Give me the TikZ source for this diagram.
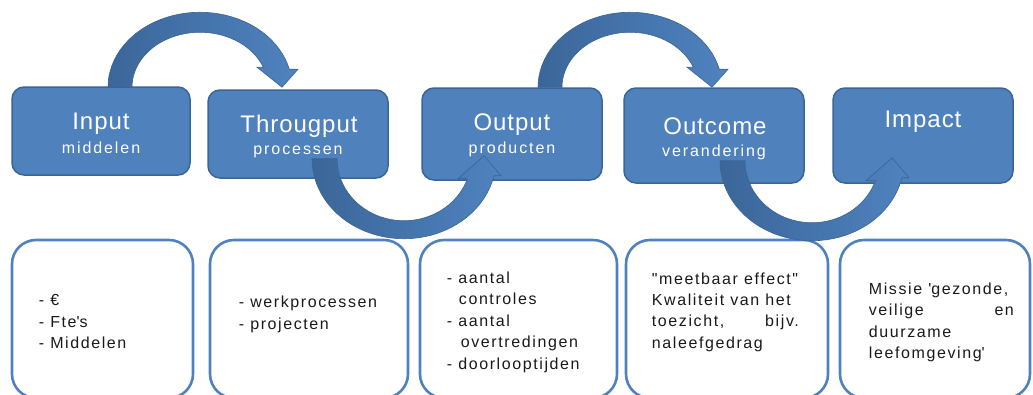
\documentclass[tikz,border=0pt]{standalone}
\usepackage{fontspec}
\setmainfont{Liberation Sans}
\newfontfamily\headfont[LetterSpace=4]{Liberation Sans}
\newfontfamily\subfont[LetterSpace=12]{Liberation Sans}
\newfontfamily\listfont[LetterSpace=10]{Liberation Sans}
\usetikzlibrary{calc,positioning}

\definecolor{boxblue}{HTML}{4F81BD}
\definecolor{boxline}{HTML}{3A6596}
\definecolor{arrowdark}{HTML}{3B6699}
\definecolor{arrowlight}{HTML}{4F82BF}
\definecolor{arrowline}{HTML}{3A6494}
\definecolor{listline}{HTML}{4F81BD}

\tikzset{
  topbox/.style={draw=boxline, fill=boxblue, line width=1.5pt, rounded corners=12pt,
    minimum width=180pt, minimum height=92pt},
  listbox/.style={draw=listline, line width=2.6pt, rounded corners=24pt, minimum height=158pt},
  boxtitle/.style={text=white, font=\headfont\fontsize{24}{28}\selectfont, anchor=base, inner sep=0pt},
  boxsub/.style={text=white, font=\subfont\fontsize{16}{19}\selectfont, anchor=base, inner sep=0pt},
  listtext/.style={font=\listfont\fontsize{16}{21.5}\selectfont, align=left, inner sep=0pt, text=black!90},
  bendarrow/.style={draw=arrowline, line width=0.6pt, left color=arrowdark, right color=arrowlight},
}

% curved arrow over the top of two boxes
\newcommand\overarrow{%
  \path[bendarrow] plot[domain=180:346.1, samples=40] ({92*cos(\x)}, {75*sin(\x)})
    -- (98,-18) -- (82,0) -- (57,-20)
    -- plot[domain=338.7:180, samples=40] ({68*cos(\x)}, {55*sin(\x)}) -- cycle;}
% curved arrow under two boxes
\newcommand\underarrow{%
  \path[bendarrow] plot[domain=180:12.3, samples=40] ({92*cos(\x)}, {80*sin(\x)})
    -- (97,17) -- (80,-3) -- (54,20)
    -- plot[domain=18.8:180, samples=40] ({67*cos(\x)}, {62*sin(\x)}) -- cycle;}

\begin{document}
\begin{tikzpicture}[x=1pt, y=-1pt]
  \useasboundingbox (0,0) rectangle (1033,394);
  \clip (0,0) rectangle (1033,394);

  % top row
  \node[topbox, minimum width=178pt, minimum height=88pt] (inp) at (101,131) {};
  \node[topbox, minimum height=88pt] (thr) at (298,134) {};
  \node[topbox] (outp) at (512,134) {};
  \node[topbox, minimum height=95pt] (outc) at (714,135.5) {};
  \node[topbox, minimum height=95pt] (imp) at (923,135.5) {};

  \node[boxtitle] (inp-t) at ($(inp.north)+(0,43)$) {Input};
  \node[boxsub] (inp-s) at ($(inp.north)+(0,67)$) {middelen};
  \node[boxtitle] (thr-t) at ($(thr.north)+(1,43)$) {Througput};
  \node[boxsub] (thr-s) at ($(thr.north)+(0,65)$) {processen};
  \node[boxtitle] (outp-t) at ($(outp.north)+(0,43)$) {Output};
  \node[boxsub] (outp-s) at ($(outp.north)+(0,66)$) {producten};
  \node[boxtitle] (outc-t) at ($(outc.north)+(1,47)$) {Outcome};
  \node[boxsub] (outc-s) at ($(outc.north)+(0,69)$) {verandering};
  \node[boxtitle] (imp-t) at ($(imp.north)+(0,40)$) {Impact};

  \begin{scope}[shift={($(inp.north)+(99,1)$)}] \overarrow \end{scope}
  \begin{scope}[shift={($(outp.north)+(118,0)$)}] \overarrow \end{scope}

  % bottom row
  \node[listbox, minimum width=181pt] (inp-l) at (102.5,319) {};
  \node[listbox, minimum width=198pt] (thr-l) at (309,319) {};
  \node[listbox, minimum width=197pt] (outp-l) at (518.5,319) {};
  \node[listbox, minimum width=202pt] (outc-l) at (727,319) {};
  \node[listbox, minimum width=190pt] (imp-l) at (935,319) {};

  \node[listtext, below right=55.5pt and 28pt of inp-l.north west] (inp-x)
    {- €\\- Fte\textquotesingle s\\- Middelen};
  \node[listtext, below right=57.5pt and 30pt of thr-l.north west] (thr-x)
    {- werkprocessen\\- projecten};
  \node[listtext, below right=32.5pt and 28pt of outp-l.north west] (outp-x)
    {- aantal\\\hspace*{12pt}controles\\- aantal\\\hspace*{14pt}overtredingen\\- doorlooptijden};
  \node[listtext, below right=33.5pt and 27pt of outc-l.north west] (outc-x)
    {"meetbaar effect"\\Kwaliteit van het\\\makebox[147pt][s]{toezicht, bijv.}\\naleefgedrag};
  \node[listtext, below right=43.5pt and 30pt of imp-l.north west] (imp-x)
    {Missie \textquotesingle gezonde,\\\makebox[145pt][s]{veilige en}\\duurzame\\leefomgeving\textquotesingle};

  \begin{scope}[shift={($(thr.south)+(106,-20)$)}] \underarrow \end{scope}
  \begin{scope}[shift={($(outc.south)+(98,-23)$)}] \underarrow \end{scope}
\end{tikzpicture}
\end{document}
